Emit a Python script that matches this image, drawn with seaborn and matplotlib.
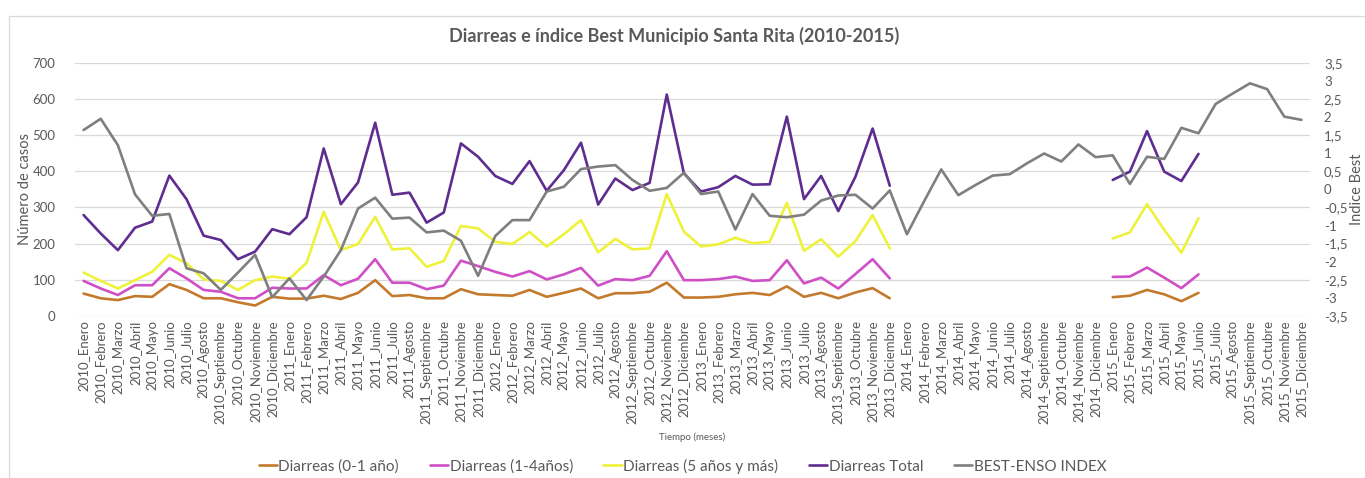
import numpy as np
import pandas as pd
import matplotlib
matplotlib.use("Agg")
import matplotlib.pyplot as plt
from matplotlib.patches import Rectangle
from matplotlib.ticker import FuncFormatter
import seaborn as sns

sns.set_theme(style="white")
plt.rcParams["font.family"] = ["Lato", "DejaVu Sans"]

meses = ["Enero", "Febrero", "Marzo", "Abril", "Mayo", "Junio", "Julio",
         "Agosto", "Septiembre", "Octubre", "Noviembre", "Diciembre"]
anios = [2010, 2011, 2012, 2013, 2014, 2015]
periodos = [f"{a}_{m}" for a in anios for m in meses]

nan = np.nan
vacio12 = [nan] * 12
vacio6 = [nan] * 6

diarreas_0_1 = ([62, 49, 44, 55, 53, 88, 72, 49, 49, 38, 29, 53,
                 48, 48, 56, 47, 64, 99, 55, 58, 49, 49, 74, 60,
                 58, 56, 72, 53, 64, 76, 49, 63, 63, 67, 92, 51,
                 51, 53, 60, 64, 58, 82, 53, 64, 49, 65, 77, 49]
                + vacio12 + [52, 56, 72, 60, 41, 64] + vacio6)

diarreas_1_4 = ([97, 76, 58, 85, 85, 132, 104, 72, 67, 49, 49, 78,
                 76, 76, 113, 85, 103, 157, 92, 92, 74, 84, 153, 138,
                 122, 109, 124, 101, 115, 133, 84, 102, 99, 111, 179, 99,
                 99, 102, 109, 97, 99, 154, 90, 106, 76, 116, 157, 104]
                + vacio12 + [108, 109, 134, 106, 77, 115] + vacio6)

diarreas_5_mas = ([120, 97, 76, 99, 122, 169, 146, 101, 97, 72, 99, 109,
                   103, 147, 288, 182, 199, 274, 184, 187, 136, 152, 249, 242,
                   205, 199, 232, 192, 226, 265, 176, 213, 184, 187, 337, 233,
                   192, 198, 216, 201, 205, 313, 180, 212, 164, 207, 279, 187]
                  + vacio12 + [214, 231, 309, 238, 175, 270] + vacio6)

diarreas_total = ([279, 228, 182, 244, 261, 388, 323, 222, 210, 157, 178, 240,
                   226, 273, 463, 309, 369, 534, 335, 341, 258, 286, 477, 440,
                   387, 365, 428, 346, 403, 479, 308, 380, 348, 368, 612, 394,
                   344, 356, 387, 363, 364, 551, 323, 387, 290, 385, 518, 360]
                  + vacio12 + [376, 399, 511, 399, 373, 448] + vacio6)

best_enso = [1.64, 1.95, 1.22, -0.14, -0.73, -0.68, -2.18, -2.32, -2.78, -2.30, -1.81, -2.98,
             -2.46, -3.06, -2.41, -1.68, -0.53, -0.23, -0.81, -0.78, -1.19, -1.14, -1.42, -2.39,
             -1.29, -0.85, -0.85, -0.06, 0.07, 0.56, 0.63, 0.67, 0.26, -0.04, 0.04, 0.46,
             -0.13, -0.06, -1.11, -0.13, -0.73, -0.77, -0.70, -0.31, -0.17, -0.15, -0.53, -0.03,
             -1.24, -0.33, 0.55, -0.16, 0.12, 0.38, 0.42, 0.72, 0.99, 0.77, 1.24, 0.89,
             0.94, 0.15, 0.90, 0.84, 1.70, 1.55, 2.36, 2.65, 2.93, 2.77, 2.01, 1.92]

series_izq = [
    ("Diarreas (0-1 año)", diarreas_0_1, "#C47A2C"),
    ("Diarreas (1-4años)", diarreas_1_4, "#CF4FC6"),
    ("Diarreas (5 años y más)", diarreas_5_mas, "#EEF23A"),
    ("Diarreas Total", diarreas_total, "#5E2D8F"),
]
serie_der = ("BEST-ENSO INDEX", best_enso, "#7F7F7F")

texto = "#595959"
rejilla = "#D9D9D9"


def tramos(valores):
    """Long-form frame with a segment id so gaps in the data stay open."""
    v = pd.Series(valores, dtype=float)
    seg = v.isna().cumsum()
    df = pd.DataFrame({"x": np.arange(len(v)), "y": v, "seg": seg})
    return df.dropna()


fig = plt.figure(figsize=(13.65, 4.78), dpi=100)
ax = fig.add_axes([75 / 1365, 1 - 316 / 478, (1310 - 75) / 1365, (316 - 62.7) / 478])
ax2 = ax.twinx()

handles = []
for nombre, vals, color in series_izq:
    sns.lineplot(data=tramos(vals), x="x", y="y", units="seg", estimator=None,
                 color=color, linewidth=1.9, ax=ax, legend=False)
    handles.append(plt.Line2D([], [], color=color, linewidth=1.9, label=nombre))

nombre, vals, color = serie_der
sns.lineplot(data=tramos(vals), x="x", y="y", units="seg", estimator=None,
             color=color, linewidth=1.9, ax=ax2, legend=False)
handles.append(plt.Line2D([], [], color=color, linewidth=1.9, label=nombre))

# left axis: cases
ax.set_ylim(0, 700)
ax.set_yticks(range(0, 701, 100))
ax.set_xlim(-0.5, len(periodos) - 0.5)
ax.set_xticks(range(len(periodos)))
ax.set_xticklabels(periodos, rotation=90, fontsize=9.5, color=texto)
ax.tick_params(axis="y", labelsize=9.5, labelcolor=texto, length=0, pad=14)
ax.tick_params(axis="x", length=0, pad=3)
ax.grid(axis="y", color=rejilla, linewidth=0.9)
ax.set_axisbelow(True)
ax.set_ylabel("Número de casos", fontsize=10.5, color=texto)
ax.yaxis.set_label_coords((32 - 75) / 1235, 0.5)
ax.set_xlabel("Tiempo (meses)", fontsize=7, color=texto, labelpad=6)

# right axis: BEST index
ax2.set_ylim(-3.5, 3.5)
ax2.set_yticks(np.arange(-3.5, 3.51, 0.5))
ax2.yaxis.set_major_formatter(FuncFormatter(
    lambda v, _: (f"{v:g}").replace(".", ",")))
ax2.tick_params(axis="y", labelsize=9.5, labelcolor=texto, length=0, pad=10)
ax2.set_ylabel("Indice Best", fontsize=10.5, color=texto)
ax2.yaxis.set_label_coords((1350 - 75) / 1235, 0.5)
ax2.grid(False)

for a in (ax, ax2):
    for s in a.spines.values():
        s.set_visible(False)

fig.text(0.494, 1 - 36 / 478, "Diarreas e índice Best Municipio Santa Rita (2010-2015)",
         ha="center", va="center", fontsize=13, fontweight="bold", color=texto)

fig.legend(handles=handles, loc="center", bbox_to_anchor=(0.5, 1 - 466 / 478),
           ncol=5, frameon=False, fontsize=11, handlelength=1.2, handletextpad=0.1,
           columnspacing=2.0, labelcolor=texto)

# chart frame
fig.patches.append(Rectangle((9 / 1365, -0.1), 1.2, 1 - 16 / 478 + 0.1,
                             transform=fig.transFigure, fill=False,
                             edgecolor="#D9D9D9", linewidth=0.9))

fig.savefig("out.png", dpi=100)
